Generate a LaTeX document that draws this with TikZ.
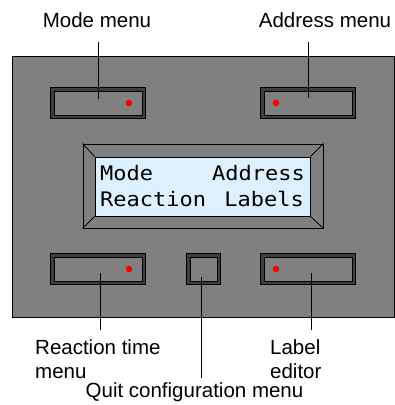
\documentclass[tikz,border=0pt]{standalone}
\usepackage{fontspec}
\setmainfont{Liberation Sans}
\newfontfamily\lcdfont[FakeStretch=1.1]{DejaVu Sans Mono}
\usetikzlibrary{calc}

\definecolor{panelgray}{RGB}{128,128,128}
\definecolor{bandgray}{RGB}{62,62,62}
\definecolor{lcdblue}{RGB}{221,240,255}

\begin{document}
\begin{tikzpicture}[x=1pt,y=-1pt,auto]
\tikzstyle{button} = [rectangle, draw=black, line width=1pt, double=bandgray,
double distance=2.5pt, fill=panelgray, inner sep=0pt,
minimum width=91.5pt, minimum height=27.5pt]
\tikzstyle{quitbutton} = [button, minimum width=30.5pt]
\tikzstyle{led} = [circle, fill=red, inner sep=0pt, minimum size=6.6pt]
\tikzstyle{lbl} = [font=\fontsize{20.5}{24}\selectfont, inner sep=0pt]
\tikzstyle{lcdtext} = [font=\lcdfont\fontsize{20}{24}\selectfont, inner sep=0pt]
\tikzstyle{leader} = [draw, line width=0.8pt];
\useasboundingbox (0,0) rectangle (395,405);
% panel
\node [draw=black, line width=0.8pt, fill=panelgray, inner sep=0pt,
minimum width=382pt, minimum height=261pt] (panel) at (203,186.5) {};
% top row
\node [button] (modebtn) at (98,103) {};
\node [button] (addrbtn) at (308,103) {};
\node [led] (modeled) at ($(modebtn.center)+(31,0)$) {};
\node [led] (addrled) at ($(addrbtn.center)+(-32,0)$) {};
% display
\node [draw=black, line width=0.8pt, fill=panelgray, inner sep=0pt,
minimum width=240pt, minimum height=84pt] (lcdframe) at (203,186) {};
\node [draw=black, line width=0.8pt, fill=lcdblue, inner sep=0pt,
minimum width=215pt, minimum height=59pt] (lcdscreen) at (202.5,186.5) {};
\foreach \c in {north west, north east, south west, south east}
  \draw [line width=0.8pt] (lcdframe.\c) -- (lcdscreen.\c);
\node [lcdtext, anchor=base west] (txtmode) at (100,180) {Mode};
\node [lcdtext, anchor=base east] (txtaddr) at (305,180) {Address};
\node [lcdtext, anchor=base west] (txtreact) at (100,206) {Reaction};
\node [lcdtext, anchor=base east] (txtlabels) at (304,206) {Labels};
% bottom row
\node [button] (reactbtn) at (98,269) {};
\node [quitbutton] (quitbtn) at (203.5,269) {};
\node [button] (labelbtn) at (308,269) {};
\node [led] (reactled) at ($(reactbtn.center)+(31,0)$) {};
\node [led] (labelled) at ($(labelbtn.center)+(-32,0)$) {};
% labels
\node [lbl, anchor=base] (modelbl) at (97,27.3) {Mode menu};
\node [lbl, anchor=base] (addrlbl) at (325,27.3) {Address menu};
\node [lbl, anchor=north west, align=left] (reactlbl) at (35,339.5) {Reaction time\\menu};
\node [lbl, anchor=north west, align=left] (labellbl) at (270,339.5) {Label\\editor};
\node [lbl, anchor=base] (quitlbl) at (194.5,397.5) {Quit configuration menu};
% leaders
\path [leader] ($(modebtn.center |- modelbl.base)+(0,15)$) -- ($(modebtn.center)+(0,-4)$);
\path [leader] ($(addrbtn.center |- addrlbl.base)+(0,15)$) -- ($(addrbtn.center)+(0,-5)$);
\path [leader] ($(reactbtn.center)+(2,4)$) -- ($(reactbtn.center |- reactlbl.north)+(2,-10)$);
\path [leader] ($(quitbtn.center)+(-2.5,8)$) -- ($(quitbtn.center |- quitlbl.north)+(-2.5,-4)$);
\path [leader] ($(labelbtn.center)+(3,4)$) -- ($(labelbtn.center |- labellbl.north)+(3,-10)$);
\end{tikzpicture}
\end{document}
